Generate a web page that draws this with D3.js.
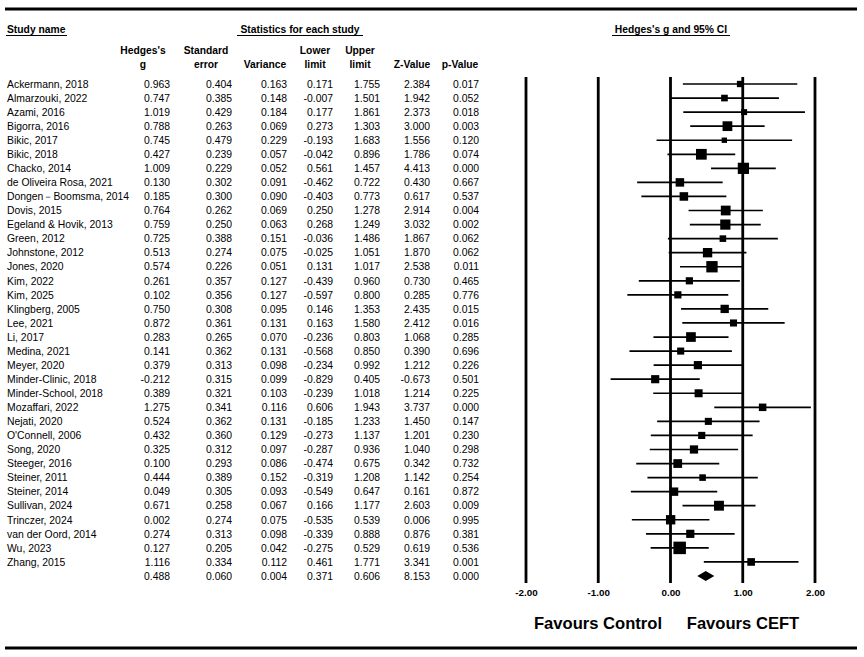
<!DOCTYPE html>
<html>
<head>
<meta charset="utf-8">
<script src="https://cdn.jsdelivr.net/npm/d3@7"></script>
<style>
  body { margin: 0; background: #fff; }
  text { font-family: "Liberation Sans", Arial, sans-serif; fill: #000; }
</style>
</head>
<body>
<script>
// study rows
var studies = ["Ackermann, 2018", "Almarzouki, 2022", "Azami, 2016", "Bigorra, 2016", "Bikic, 2017",
  "Bikic, 2018", "Chacko, 2014", "de Oliveira Rosa, 2021", "Dongen\uFF0DBoomsma, 2014", "Dovis, 2015",
  "Egeland & Hovik, 2013", "Green, 2012", "Johnstone, 2012", "Jones, 2020", "Kim, 2022", "Kim, 2025",
  "Klingberg, 2005", "Lee, 2021", "Li, 2017", "Medina, 2021", "Meyer, 2020", "Minder-Clinic, 2018",
  "Minder-School, 2018", "Mozaffari, 2022", "Nejati, 2020", "O'Connell, 2006", "Song, 2020",
  "Steeger, 2016", "Steiner, 2011", "Steiner, 2014", "Sullivan, 2024", "Trinczer, 2024",
  "van der Oord, 2014", "Wu, 2023", "Zhang, 2015"];
var hedgesG = [0.963, 0.747, 1.019, 0.788, 0.745, 0.427, 1.009, 0.130, 0.185, 0.764, 0.759, 0.725, 0.513,
  0.574, 0.261, 0.102, 0.750, 0.872, 0.283, 0.141, 0.379, -0.212, 0.389, 1.275, 0.524, 0.432, 0.325,
  0.100, 0.444, 0.049, 0.671, 0.002, 0.274, 0.127, 1.116];
var stdErr = [0.404, 0.385, 0.429, 0.263, 0.479, 0.239, 0.229, 0.302, 0.300, 0.262, 0.250, 0.388, 0.274,
  0.226, 0.357, 0.356, 0.308, 0.361, 0.265, 0.362, 0.313, 0.315, 0.321, 0.341, 0.362, 0.360, 0.312,
  0.293, 0.389, 0.305, 0.258, 0.274, 0.313, 0.205, 0.334];
var variance = [0.163, 0.148, 0.184, 0.069, 0.229, 0.057, 0.052, 0.091, 0.090, 0.069, 0.063, 0.151, 0.075,
  0.051, 0.127, 0.127, 0.095, 0.131, 0.070, 0.131, 0.098, 0.099, 0.103, 0.116, 0.131, 0.129, 0.097,
  0.086, 0.152, 0.093, 0.067, 0.075, 0.098, 0.042, 0.112];
var lowerLimit = [0.171, -0.007, 0.177, 0.273, -0.193, -0.042, 0.561, -0.462, -0.403, 0.250, 0.268, -0.036,
  -0.025, 0.131, -0.439, -0.597, 0.146, 0.163, -0.236, -0.568, -0.234, -0.829, -0.239, 0.606, -0.185,
  -0.273, -0.287, -0.474, -0.319, -0.549, 0.166, -0.535, -0.339, -0.275, 0.461];
var upperLimit = [1.755, 1.501, 1.861, 1.303, 1.683, 0.896, 1.457, 0.722, 0.773, 1.278, 1.249, 1.486, 1.051,
  1.017, 0.960, 0.800, 1.353, 1.580, 0.803, 0.850, 0.992, 0.405, 1.018, 1.943, 1.233, 1.137, 0.936,
  0.675, 1.208, 0.647, 1.177, 0.539, 0.888, 0.529, 1.771];
var zValue = [2.384, 1.942, 2.373, 3.000, 1.556, 1.786, 4.413, 0.430, 0.617, 2.914, 3.032, 1.867, 1.870,
  2.538, 0.730, 0.285, 2.435, 2.412, 1.068, 0.390, 1.212, -0.673, 1.214, 3.737, 1.450, 1.201, 1.040,
  0.342, 1.142, 0.161, 2.603, 0.006, 0.876, 0.619, 3.341];
var pValue = [0.017, 0.052, 0.018, 0.003, 0.120, 0.074, 0.000, 0.667, 0.537, 0.004, 0.002, 0.062, 0.062,
  0.011, 0.465, 0.776, 0.015, 0.016, 0.285, 0.696, 0.226, 0.501, 0.225, 0.000, 0.147, 0.230, 0.298,
  0.732, 0.254, 0.872, 0.009, 0.995, 0.381, 0.536, 0.001];

// pooled row
var summary = [0.488, 0.060, 0.004, 0.371, 0.606, 8.153, 0.000];

var ticks = [-2, -1, 0, 1, 2];

var W = 864, H = 657;
var svg = d3.select("body").append("svg").attr("width", W).attr("height", H);

var x = d3.scaleLinear().domain([-2, 2]).range([526, 815]);
var y = d3.scaleLinear().domain([0, studies.length]).range([84, 576]);

// top / bottom rules
svg.append("line").attr("x1", 5).attr("x2", 857).attr("y1", 9).attr("y2", 9)
  .attr("stroke", "#000").attr("stroke-width", 3.2);
svg.append("line").attr("x1", 5).attr("x2", 857).attr("y1", 648).attr("y2", 648)
  .attr("stroke", "#000").attr("stroke-width", 3.2);

// group headers, underlined
var addUnderlined = function(txt, cx, anchor, x1, x2){
  svg.append("text").attr("x", cx).attr("y", 33).attr("text-anchor", anchor)
    .attr("font-size", 10.3).attr("font-weight", "bold").text(txt);
  svg.append("line").attr("x1", x1).attr("x2", x2).attr("y1", 35.5).attr("y2", 35.5)
    .attr("stroke", "#000").attr("stroke-width", 1);
};
addUnderlined("Study name", 7, "start", 6, 67);
addUnderlined("Statistics for each study", 300, "middle", 237, 363);
addUnderlined("Hedges's g and 95% CI", 671, "middle", 612, 730);

// column headers (right edge of each column)
var colRight = [170, 232, 287, 333, 380, 430, 479];
var colHead = [["Hedges's", "g"], ["Standard", "error"], ["", "Variance"], ["Lower", "limit"],
  ["Upper", "limit"], ["", "Z-Value"], ["", "p-Value"]];
var colCenter = [143, 206, 265, 315, 360, 412, 460];
colHead.forEach(function(h, i){
  h.forEach(function(line, j){
    if (!line) return;
    svg.append("text").attr("x", colCenter[i]).attr("y", 54 + j * 13.5)
      .attr("text-anchor", "middle").attr("font-size", 10.3).attr("font-weight", "bold").text(line);
  });
});

// table body
var cols = [hedgesG, stdErr, variance, lowerLimit, upperLimit, zValue, pValue];
var fmt = d3.format(".3f");
var rows = svg.append("g");
studies.forEach(function(name, i){
  rows.append("text").attr("x", 7).attr("y", y(i)).attr("dy", "0.36em")
    .attr("font-size", 10.4).text(name);
  cols.forEach(function(col, c){
    rows.append("text").attr("x", colRight[c]).attr("y", y(i)).attr("dy", "0.36em")
      .attr("text-anchor", "end").attr("font-size", 10.4).text(fmt(col[i]).replace("\u2212", "-"));
  });
});
summary.forEach(function(v, c){
  rows.append("text").attr("x", colRight[c]).attr("y", y(studies.length)).attr("dy", "0.36em")
    .attr("text-anchor", "end").attr("font-size", 10.4).text(fmt(v).replace("\u2212", "-"));
});

// reference lines at each tick
svg.selectAll("line.grid").data(ticks).enter().append("line")
  .attr("class", "grid")
  .attr("x1", function(d){ return x(d); }).attr("x2", function(d){ return x(d); })
  .attr("y1", 77).attr("y2", 583)
  .attr("stroke", "#000").attr("stroke-width", 2.8);

// CI lines
svg.selectAll("line.ci").data(studies).enter().append("line")
  .attr("class", "ci")
  .attr("x1", function(d, i){ return x(lowerLimit[i]); })
  .attr("x2", function(d, i){ return x(upperLimit[i]); })
  .attr("y1", function(d, i){ return y(i); }).attr("y2", function(d, i){ return y(i); })
  .attr("stroke", "#000").attr("stroke-width", 1.7);

// squares sized by inverse variance
var weights = variance.map(function(v){ return 1 / v; });
var side = d3.scaleSqrt().domain([0, d3.max(weights)]).range([0, 12.5]);
svg.selectAll("rect.pt").data(studies).enter().append("rect")
  .attr("class", "pt")
  .attr("x", function(d, i){ return x(hedgesG[i]) - side(weights[i]) / 2; })
  .attr("y", function(d, i){ return y(i) - side(weights[i]) / 2; })
  .attr("width", function(d, i){ return side(weights[i]); })
  .attr("height", function(d, i){ return side(weights[i]); })
  .attr("fill", "#000");

// pooled diamond
var sy = y(studies.length);
svg.append("path")
  .attr("d", "M" + x(summary[3]) + "," + sy + "L" + x(summary[0]) + "," + (sy - 5) +
    "L" + x(summary[4]) + "," + sy + "L" + x(summary[0]) + "," + (sy + 5) + "Z")
  .attr("fill", "#000");

// tick labels via axis
var axis = d3.axisBottom(x).tickValues(ticks).tickSize(0).tickPadding(0)
  .tickFormat(function(d){ return d3.format(".2f")(d).replace("\u2212", "-"); });
var ax = svg.append("g").attr("transform", "translate(0,589)").call(axis);
ax.select(".domain").remove();
ax.selectAll("text").attr("font-size", 9.8).attr("font-weight", "bold")
  .attr("font-family", "Liberation Sans, Arial, sans-serif").attr("fill", "#000");

// favours labels
svg.append("text").attr("x", 598).attr("y", 629).attr("text-anchor", "middle")
  .attr("font-size", 16.6).attr("font-weight", "bold").text("Favours Control");
svg.append("text").attr("x", 743).attr("y", 629).attr("text-anchor", "middle")
  .attr("font-size", 16.6).attr("font-weight", "bold").text("Favours CEFT");
</script>
</body>
</html>
